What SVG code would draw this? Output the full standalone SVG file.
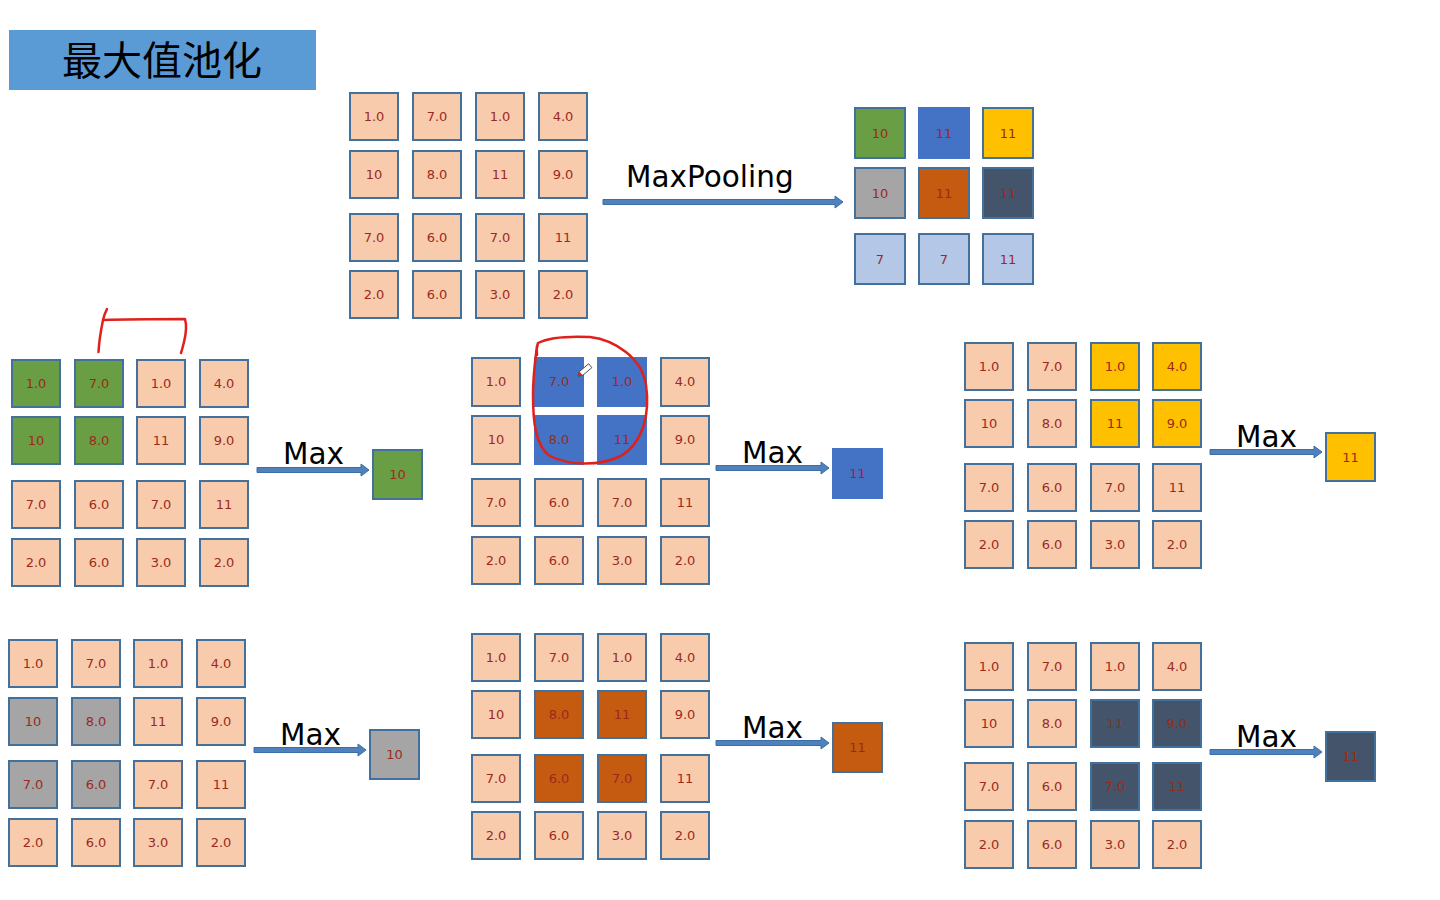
<svg xmlns="http://www.w3.org/2000/svg" width="1440" height="900" viewBox="0 0 1440 900">
<style>
.c rect{fill:#F8CBAD;stroke:#41719C;stroke-width:2}
.c text,.o text{font-family:"DejaVu Sans","Liberation Sans",sans-serif;font-size:13px;fill:#9C2A1C;text-anchor:middle}
.o rect{stroke:#41719C;stroke-width:2}
.hg rect{fill:#6A9E45}
.hb rect{fill:#4472C4;stroke:#4472C4}
.hy rect{fill:#FFC000}
.hr rect{fill:#A5A5A5}
.ho rect{fill:#C55A11}
.hd rect{fill:#44546A}
.hl rect{fill:#B4C7E7}
.lbl{font-family:"DejaVu Sans","Liberation Sans",sans-serif;font-size:29.5px;fill:#000}
.arr{fill:#4F81BD;stroke:#3A6EA5;stroke-width:1}
.ink{fill:none;stroke:#E0201A;stroke-width:2.5;stroke-linecap:round;stroke-linejoin:round}
</style>
<rect width="1440" height="900" fill="#fff"/>
<g id="title">
<rect x="9" y="30" width="307" height="60" fill="#5B9BD5"/>
<text x="162" y="75" font-family="'Noto Sans CJK SC','Noto Sans CJK JP',sans-serif" font-size="40" font-weight="normal" text-anchor="middle" fill="#000">最大值池化</text>
</g>

<g id="input" transform="translate(350,93)">
<g id="t11" class="c" transform="translate(0,0)"><rect width="48" height="47"/><text x="24" y="28">1.0</text></g>
<g id="t12" class="c" transform="translate(63,0)"><rect width="48" height="47"/><text x="24" y="28">7.0</text></g>
<g id="t13" class="c" transform="translate(126,0)"><rect width="48" height="47"/><text x="24" y="28">1.0</text></g>
<g id="t14" class="c" transform="translate(189,0)"><rect width="48" height="47"/><text x="24" y="28">4.0</text></g>
<g id="t21" class="c" transform="translate(0,58)"><rect width="48" height="47"/><text x="24" y="28">10</text></g>
<g id="t22" class="c" transform="translate(63,58)"><rect width="48" height="47"/><text x="24" y="28">8.0</text></g>
<g id="t23" class="c" transform="translate(126,58)"><rect width="48" height="47"/><text x="24" y="28">11</text></g>
<g id="t24" class="c" transform="translate(189,58)"><rect width="48" height="47"/><text x="24" y="28">9.0</text></g>
<g id="t31" class="c" transform="translate(0,121)"><rect width="48" height="47"/><text x="24" y="28">7.0</text></g>
<g id="t32" class="c" transform="translate(63,121)"><rect width="48" height="47"/><text x="24" y="28">6.0</text></g>
<g id="t33" class="c" transform="translate(126,121)"><rect width="48" height="47"/><text x="24" y="28">7.0</text></g>
<g id="t34" class="c" transform="translate(189,121)"><rect width="48" height="47"/><text x="24" y="28">11</text></g>
<g id="t41" class="c" transform="translate(0,178)"><rect width="48" height="47"/><text x="24" y="28">2.0</text></g>
<g id="t42" class="c" transform="translate(63,178)"><rect width="48" height="47"/><text x="24" y="28">6.0</text></g>
<g id="t43" class="c" transform="translate(126,178)"><rect width="48" height="47"/><text x="24" y="28">3.0</text></g>
<g id="t44" class="c" transform="translate(189,178)"><rect width="48" height="47"/><text x="24" y="28">2.0</text></g>
</g>

<g id="output" transform="translate(855,108)">
<g id="o11" class="o hg" transform="translate(0,0)"><rect width="50" height="50"/><text x="25" y="30">10</text></g>
<g id="o12" class="o hb" transform="translate(64,0)"><rect width="50" height="50"/><text x="25" y="30">11</text></g>
<g id="o13" class="o hy" transform="translate(128,0)"><rect width="50" height="50"/><text x="25" y="30">11</text></g>
<g id="o21" class="o hr" transform="translate(0,60)"><rect width="50" height="50"/><text x="25" y="30">10</text></g>
<g id="o22" class="o ho" transform="translate(64,60)"><rect width="50" height="50"/><text x="25" y="30">11</text></g>
<g id="o23" class="o hd" transform="translate(128,60)"><rect width="50" height="50"/><text x="25" y="30">11</text></g>
<g id="o31" class="o hl" transform="translate(0,126)"><rect width="50" height="50"/><text x="25" y="30">7</text></g>
<g id="o32" class="o hl" transform="translate(64,126)"><rect width="50" height="50"/><text x="25" y="30">7</text></g>
<g id="o33" class="o hl" transform="translate(128,126)"><rect width="50" height="50"/><text x="25" y="30">11</text></g>
</g>

<g id="panelA" transform="translate(12,360)">
<g id="a11" class="c hg" transform="translate(0,0)"><rect width="48" height="47"/><text x="24" y="28">1.0</text></g>
<g id="a12" class="c hg" transform="translate(63,0)"><rect width="48" height="47"/><text x="24" y="28">7.0</text></g>
<g id="a13" class="c" transform="translate(125,0)"><rect width="48" height="47"/><text x="24" y="28">1.0</text></g>
<g id="a14" class="c" transform="translate(188,0)"><rect width="48" height="47"/><text x="24" y="28">4.0</text></g>
<g id="a21" class="c hg" transform="translate(0,57)"><rect width="48" height="47"/><text x="24" y="28">10</text></g>
<g id="a22" class="c hg" transform="translate(63,57)"><rect width="48" height="47"/><text x="24" y="28">8.0</text></g>
<g id="a23" class="c" transform="translate(125,57)"><rect width="48" height="47"/><text x="24" y="28">11</text></g>
<g id="a24" class="c" transform="translate(188,57)"><rect width="48" height="47"/><text x="24" y="28">9.0</text></g>
<g id="a31" class="c" transform="translate(0,121)"><rect width="48" height="47"/><text x="24" y="28">7.0</text></g>
<g id="a32" class="c" transform="translate(63,121)"><rect width="48" height="47"/><text x="24" y="28">6.0</text></g>
<g id="a33" class="c" transform="translate(125,121)"><rect width="48" height="47"/><text x="24" y="28">7.0</text></g>
<g id="a34" class="c" transform="translate(188,121)"><rect width="48" height="47"/><text x="24" y="28">11</text></g>
<g id="a41" class="c" transform="translate(0,179)"><rect width="48" height="47"/><text x="24" y="28">2.0</text></g>
<g id="a42" class="c" transform="translate(63,179)"><rect width="48" height="47"/><text x="24" y="28">6.0</text></g>
<g id="a43" class="c" transform="translate(125,179)"><rect width="48" height="47"/><text x="24" y="28">3.0</text></g>
<g id="a44" class="c" transform="translate(188,179)"><rect width="48" height="47"/><text x="24" y="28">2.0</text></g>
</g>
<g id="resA" class="o hg" transform="translate(373,450)"><rect width="49" height="49"/><text x="24.5" y="29">10</text></g>

<g id="panelB" transform="translate(472,358)">
<g id="b11" class="c" transform="translate(0,0)"><rect width="48" height="48"/><text x="24" y="28">1.0</text></g>
<g id="b12" class="c hb" transform="translate(63,0)"><rect width="48" height="48"/><text x="24" y="28">7.0</text></g>
<g id="b13" class="c hb" transform="translate(126,0)"><rect width="48" height="48"/><text x="24" y="28">1.0</text></g>
<g id="b14" class="c" transform="translate(189,0)"><rect width="48" height="48"/><text x="24" y="28">4.0</text></g>
<g id="b21" class="c" transform="translate(0,58)"><rect width="48" height="48"/><text x="24" y="28">10</text></g>
<g id="b22" class="c hb" transform="translate(63,58)"><rect width="48" height="48"/><text x="24" y="28">8.0</text></g>
<g id="b23" class="c hb" transform="translate(126,58)"><rect width="48" height="48"/><text x="24" y="28">11</text></g>
<g id="b24" class="c" transform="translate(189,58)"><rect width="48" height="48"/><text x="24" y="28">9.0</text></g>
<g id="b31" class="c" transform="translate(0,121)"><rect width="48" height="47"/><text x="24" y="28">7.0</text></g>
<g id="b32" class="c" transform="translate(63,121)"><rect width="48" height="47"/><text x="24" y="28">6.0</text></g>
<g id="b33" class="c" transform="translate(126,121)"><rect width="48" height="47"/><text x="24" y="28">7.0</text></g>
<g id="b34" class="c" transform="translate(189,121)"><rect width="48" height="47"/><text x="24" y="28">11</text></g>
<g id="b41" class="c" transform="translate(0,179)"><rect width="48" height="47"/><text x="24" y="28">2.0</text></g>
<g id="b42" class="c" transform="translate(63,179)"><rect width="48" height="47"/><text x="24" y="28">6.0</text></g>
<g id="b43" class="c" transform="translate(126,179)"><rect width="48" height="47"/><text x="24" y="28">3.0</text></g>
<g id="b44" class="c" transform="translate(189,179)"><rect width="48" height="47"/><text x="24" y="28">2.0</text></g>
</g>
<g id="resB" class="o hb" transform="translate(833,449)"><rect width="49" height="49"/><text x="24.5" y="29">11</text></g>

<g id="panelC" transform="translate(965,343)">
<g id="c11" class="c" transform="translate(0,0)"><rect width="48" height="47"/><text x="24" y="28">1.0</text></g>
<g id="c12" class="c" transform="translate(63,0)"><rect width="48" height="47"/><text x="24" y="28">7.0</text></g>
<g id="c13" class="c hy" transform="translate(126,0)"><rect width="48" height="47"/><text x="24" y="28">1.0</text></g>
<g id="c14" class="c hy" transform="translate(188,0)"><rect width="48" height="47"/><text x="24" y="28">4.0</text></g>
<g id="c21" class="c" transform="translate(0,57)"><rect width="48" height="47"/><text x="24" y="28">10</text></g>
<g id="c22" class="c" transform="translate(63,57)"><rect width="48" height="47"/><text x="24" y="28">8.0</text></g>
<g id="c23" class="c hy" transform="translate(126,57)"><rect width="48" height="47"/><text x="24" y="28">11</text></g>
<g id="c24" class="c hy" transform="translate(188,57)"><rect width="48" height="47"/><text x="24" y="28">9.0</text></g>
<g id="c31" class="c" transform="translate(0,121)"><rect width="48" height="47"/><text x="24" y="28">7.0</text></g>
<g id="c32" class="c" transform="translate(63,121)"><rect width="48" height="47"/><text x="24" y="28">6.0</text></g>
<g id="c33" class="c" transform="translate(126,121)"><rect width="48" height="47"/><text x="24" y="28">7.0</text></g>
<g id="c34" class="c" transform="translate(188,121)"><rect width="48" height="47"/><text x="24" y="28">11</text></g>
<g id="c41" class="c" transform="translate(0,178)"><rect width="48" height="47"/><text x="24" y="28">2.0</text></g>
<g id="c42" class="c" transform="translate(63,178)"><rect width="48" height="47"/><text x="24" y="28">6.0</text></g>
<g id="c43" class="c" transform="translate(126,178)"><rect width="48" height="47"/><text x="24" y="28">3.0</text></g>
<g id="c44" class="c" transform="translate(188,178)"><rect width="48" height="47"/><text x="24" y="28">2.0</text></g>
</g>
<g id="resC" class="o hy" transform="translate(1326,433)"><rect width="49" height="48"/><text x="24.5" y="29">11</text></g>

<g id="panelD" transform="translate(9,640)">
<g id="d11" class="c" transform="translate(0,0)"><rect width="48" height="47"/><text x="24" y="28">1.0</text></g>
<g id="d12" class="c" transform="translate(63,0)"><rect width="48" height="47"/><text x="24" y="28">7.0</text></g>
<g id="d13" class="c" transform="translate(125,0)"><rect width="48" height="47"/><text x="24" y="28">1.0</text></g>
<g id="d14" class="c" transform="translate(188,0)"><rect width="48" height="47"/><text x="24" y="28">4.0</text></g>
<g id="d21" class="c hr" transform="translate(0,58)"><rect width="48" height="47"/><text x="24" y="28">10</text></g>
<g id="d22" class="c hr" transform="translate(63,58)"><rect width="48" height="47"/><text x="24" y="28">8.0</text></g>
<g id="d23" class="c" transform="translate(125,58)"><rect width="48" height="47"/><text x="24" y="28">11</text></g>
<g id="d24" class="c" transform="translate(188,58)"><rect width="48" height="47"/><text x="24" y="28">9.0</text></g>
<g id="d31" class="c hr" transform="translate(0,121)"><rect width="48" height="47"/><text x="24" y="28">7.0</text></g>
<g id="d32" class="c hr" transform="translate(63,121)"><rect width="48" height="47"/><text x="24" y="28">6.0</text></g>
<g id="d33" class="c" transform="translate(125,121)"><rect width="48" height="47"/><text x="24" y="28">7.0</text></g>
<g id="d34" class="c" transform="translate(188,121)"><rect width="48" height="47"/><text x="24" y="28">11</text></g>
<g id="d41" class="c" transform="translate(0,179)"><rect width="48" height="47"/><text x="24" y="28">2.0</text></g>
<g id="d42" class="c" transform="translate(63,179)"><rect width="48" height="47"/><text x="24" y="28">6.0</text></g>
<g id="d43" class="c" transform="translate(125,179)"><rect width="48" height="47"/><text x="24" y="28">3.0</text></g>
<g id="d44" class="c" transform="translate(188,179)"><rect width="48" height="47"/><text x="24" y="28">2.0</text></g>
</g>
<g id="resD" class="o hr" transform="translate(370,730)"><rect width="49" height="49"/><text x="24.5" y="29">10</text></g>

<g id="panelE" transform="translate(472,634)">
<g id="e11" class="c" transform="translate(0,0)"><rect width="48" height="47"/><text x="24" y="28">1.0</text></g>
<g id="e12" class="c" transform="translate(63,0)"><rect width="48" height="47"/><text x="24" y="28">7.0</text></g>
<g id="e13" class="c" transform="translate(126,0)"><rect width="48" height="47"/><text x="24" y="28">1.0</text></g>
<g id="e14" class="c" transform="translate(189,0)"><rect width="48" height="47"/><text x="24" y="28">4.0</text></g>
<g id="e21" class="c" transform="translate(0,57)"><rect width="48" height="47"/><text x="24" y="28">10</text></g>
<g id="e22" class="c ho" transform="translate(63,57)"><rect width="48" height="47"/><text x="24" y="28">8.0</text></g>
<g id="e23" class="c ho" transform="translate(126,57)"><rect width="48" height="47"/><text x="24" y="28">11</text></g>
<g id="e24" class="c" transform="translate(189,57)"><rect width="48" height="47"/><text x="24" y="28">9.0</text></g>
<g id="e31" class="c" transform="translate(0,121)"><rect width="48" height="47"/><text x="24" y="28">7.0</text></g>
<g id="e32" class="c ho" transform="translate(63,121)"><rect width="48" height="47"/><text x="24" y="28">6.0</text></g>
<g id="e33" class="c ho" transform="translate(126,121)"><rect width="48" height="47"/><text x="24" y="28">7.0</text></g>
<g id="e34" class="c" transform="translate(189,121)"><rect width="48" height="47"/><text x="24" y="28">11</text></g>
<g id="e41" class="c" transform="translate(0,178)"><rect width="48" height="47"/><text x="24" y="28">2.0</text></g>
<g id="e42" class="c" transform="translate(63,178)"><rect width="48" height="47"/><text x="24" y="28">6.0</text></g>
<g id="e43" class="c" transform="translate(126,178)"><rect width="48" height="47"/><text x="24" y="28">3.0</text></g>
<g id="e44" class="c" transform="translate(189,178)"><rect width="48" height="47"/><text x="24" y="28">2.0</text></g>
</g>
<g id="resE" class="o ho" transform="translate(833,723)"><rect width="49" height="49"/><text x="24.5" y="29">11</text></g>

<g id="panelF" transform="translate(965,643)">
<g id="f11" class="c" transform="translate(0,0)"><rect width="48" height="47"/><text x="24" y="28">1.0</text></g>
<g id="f12" class="c" transform="translate(63,0)"><rect width="48" height="47"/><text x="24" y="28">7.0</text></g>
<g id="f13" class="c" transform="translate(126,0)"><rect width="48" height="47"/><text x="24" y="28">1.0</text></g>
<g id="f14" class="c" transform="translate(188,0)"><rect width="48" height="47"/><text x="24" y="28">4.0</text></g>
<g id="f21" class="c" transform="translate(0,57)"><rect width="48" height="47"/><text x="24" y="28">10</text></g>
<g id="f22" class="c" transform="translate(63,57)"><rect width="48" height="47"/><text x="24" y="28">8.0</text></g>
<g id="f23" class="c hd" transform="translate(126,57)"><rect width="48" height="47"/><text x="24" y="28">11</text></g>
<g id="f24" class="c hd" transform="translate(188,57)"><rect width="48" height="47"/><text x="24" y="28">9.0</text></g>
<g id="f31" class="c" transform="translate(0,120)"><rect width="48" height="47"/><text x="24" y="28">7.0</text></g>
<g id="f32" class="c" transform="translate(63,120)"><rect width="48" height="47"/><text x="24" y="28">6.0</text></g>
<g id="f33" class="c hd" transform="translate(126,120)"><rect width="48" height="47"/><text x="24" y="28">7.0</text></g>
<g id="f34" class="c hd" transform="translate(188,120)"><rect width="48" height="47"/><text x="24" y="28">11</text></g>
<g id="f41" class="c" transform="translate(0,178)"><rect width="48" height="47"/><text x="24" y="28">2.0</text></g>
<g id="f42" class="c" transform="translate(63,178)"><rect width="48" height="47"/><text x="24" y="28">6.0</text></g>
<g id="f43" class="c" transform="translate(126,178)"><rect width="48" height="47"/><text x="24" y="28">3.0</text></g>
<g id="f44" class="c" transform="translate(188,178)"><rect width="48" height="47"/><text x="24" y="28">2.0</text></g>
</g>
<g id="resF" class="o hd" transform="translate(1326,732)"><rect width="49" height="49"/><text x="24.5" y="29">11</text></g>

<g id="connectors">
<path class="arr" d="M603,199.5 H835 V196 L843,202 L835,208 V204.5 H603 Z"/>
<path class="arr" d="M257,467.5 H361 V464 L369,470 L361,476 V472.5 H257 Z"/>
<path class="arr" d="M716,465.5 H821 V462 L829,468 L821,474 V470.5 H716 Z"/>
<path class="arr" d="M1210,449.5 H1314 V446 L1322,452 L1314,458 V454.5 H1210 Z"/>
<path class="arr" d="M254,747.5 H358 V744 L366,750 L358,756 V752.5 H254 Z"/>
<path class="arr" d="M716,740.5 H821 V737 L829,743 L821,749 V745.5 H716 Z"/>
<path class="arr" d="M1210,749.5 H1314 V746 L1322,752 L1314,758 V754.5 H1210 Z"/>
<text class="lbl" x="626" y="187">MaxPooling</text>
<text class="lbl" x="283" y="464">Max</text>
<text class="lbl" x="742" y="463">Max</text>
<text class="lbl" x="1236" y="447">Max</text>
<text class="lbl" x="280" y="745">Max</text>
<text class="lbl" x="742" y="738">Max</text>
<text class="lbl" x="1236" y="747">Max</text>
</g>

<g id="annotations">
<path class="ink" d="M98.5,352 C99,342 101,330 103,320 C104,315 106,311 107,309"/>
<path class="ink" d="M104,320 C130,319 160,319 185,319 C187,326 186,334 184,342 C183,346 182,350 181,353"/>
<path class="ink" d="M537,355 C536,350 537,346 538,343 C548,338 568,336 590,337 C615,340 642,358 646,385 C650,412 644,442 621,456 C600,466 570,466 550,456 C535,446 533,420 533,395 C533,375 535,362 537,346"/>
<g id="pen" transform="translate(578,376) rotate(-40)">
<path d="M0,0 L4,-2.5 L16,-2.5 L16,2.5 L4,2.5 Z" fill="#fff" stroke="#333" stroke-width="0.8"/>
<path d="M0,0 L4,-2.5 L4,2.5 Z" fill="#E0201A"/>
</g>
</g>
</svg>
